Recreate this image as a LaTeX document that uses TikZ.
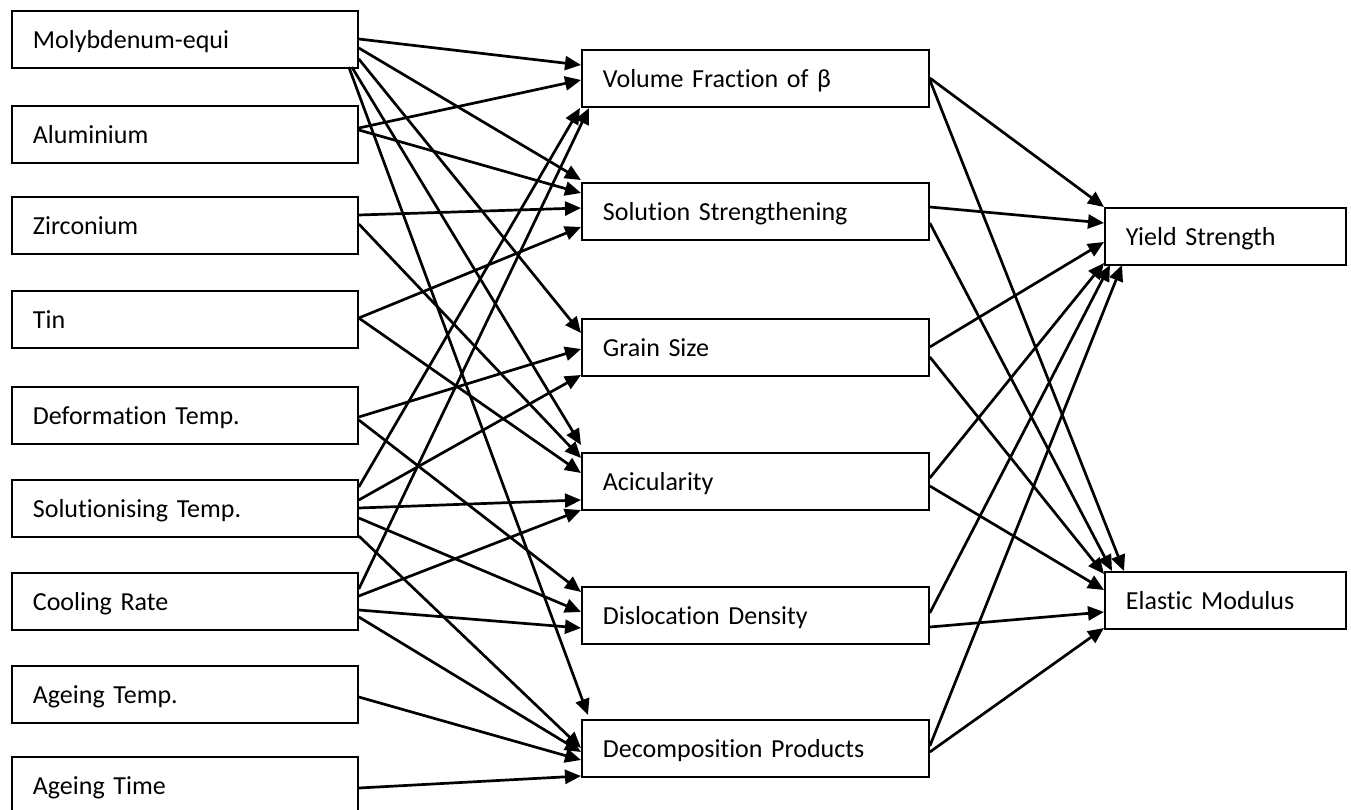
\documentclass[tikz,border=0pt]{standalone}
\usepackage{fontspec}
\setmainfont[Ligatures=NoCommon]{Carlito}
\usetikzlibrary{arrows.meta,calc}
\tikzset{
  box/.style={draw=black, line width=1.8pt, minimum height=57pt, inner xsep=21pt, inner ysep=0pt,
    text height=22pt, text depth=3pt, align=left, anchor=north west, font=\fontsize{26}{31}\selectfont},
  lbox/.style={box, text width=304pt},
  mbox/.style={box, text width=305pt},
  rbox/.style={box, text width=199pt},
  conn/.style={line width=2.7pt, -{Triangle[length=16pt,width=14pt]}}
}
\newcommand{\E}[4]{\draw[conn] ($(#1.north east)+#2$) -- ($(#3.north west)+#4$);}
\begin{document}
\begin{tikzpicture}[x=1pt,y=-1pt]
\useasboundingbox (0,0) rectangle (1351,810);
% left column
\node[lbox] (mol)  at (11,10)  {Molybdenum-equi};
\node[lbox] (al)   at (11,105) {Aluminium};
\node[lbox] (zr)   at (11,196) {Zirconium};
\node[lbox] (tin)  at (11,290) {Tin};
\node[lbox] (def)  at (11,386) {Deformation Temp.};
\node[lbox] (solu) at (11,479) {Solutionising Temp.};
\node[lbox] (cool) at (11,572) {Cooling Rate};
\node[lbox] (agt)  at (11,665) {Ageing Temp.};
\node[lbox] (agti) at (11,756) {Ageing Time};
% middle column
\node[mbox] (vol)   at (581,49)  {Volume Fraction of β};
\node[mbox] (sol)   at (581,182) {Solution Strengthening};
\node[mbox] (grain) at (581,318) {Grain Size};
\node[mbox] (acic)  at (581,452) {Acicularity};
\node[mbox] (disl)  at (581,586) {Dislocation Density};
\node[mbox] (dec)   at (581,719) {Decomposition Products};
% right column
\node[rbox] (ys) at (1104,207) {Yield Strength};
\node[rbox] (em) at (1104,571) {Elastic Modulus};
% left -> middle
\E{mol}{(0,29)}{vol}{(0,16)}
\E{mol}{(0,38)}{sol}{(0,-2)}
\E{mol}{(0,49)}{grain}{(0,15)}
\E{mol}{(-7,57)}{acic}{(0,-7)}
\E{mol}{(-10,57)}{dec}{(7,-4)}
\E{al}{(0,23)}{vol}{(0,31)}
\E{al}{(0,25)}{sol}{(0,11)}
\E{zr}{(0,19)}{sol}{(0,26)}
\E{zr}{(0,28)}{acic}{(0,6)}
\E{tin}{(0,28)}{sol}{(0,45)}
\E{tin}{(0,28)}{acic}{(0,21)}
\E{def}{(0,31)}{grain}{(0,31)}
\E{def}{(0,34)}{disl}{(0,6)}
\E{solu}{(0,8)}{vol}{(-1,59)}
\E{solu}{(0,21)}{grain}{(0,57)}
\E{solu}{(0,29)}{acic}{(0,48)}
\E{solu}{(0,39)}{disl}{(0,26)}
\E{solu}{(0,57)}{dec}{(0,29)}
\E{cool}{(0,17)}{vol}{(8,59)}
\E{cool}{(0,24)}{acic}{(0,58)}
\E{cool}{(0,38)}{disl}{(0,42)}
\E{cool}{(0,45)}{dec}{(0,33)}
\E{agt}{(0,32)}{dec}{(0,41)}
\E{agti}{(0,32)}{dec}{(0,57)}
% middle -> right
\E{vol}{(0,29)}{ys}{(0,0)}
\E{vol}{(0,31)}{em}{(20,0)}
\E{sol}{(0,25)}{ys}{(0,16)}
\E{sol}{(0,41)}{em}{(8,0)}
\E{grain}{(0,29)}{ys}{(0,35)}
\E{grain}{(0,39)}{em}{(0,3)}
\E{acic}{(0,26)}{ys}{(0,56)}
\E{acic}{(0,34)}{em}{(0,19)}
\E{disl}{(0,27)}{ys}{(6,58)}
\E{disl}{(0,41)}{em}{(0,41)}
\E{dec}{(0,27)}{ys}{(18,58)}
\E{dec}{(0,33)}{em}{(0,57)}
\end{tikzpicture}
\end{document}
